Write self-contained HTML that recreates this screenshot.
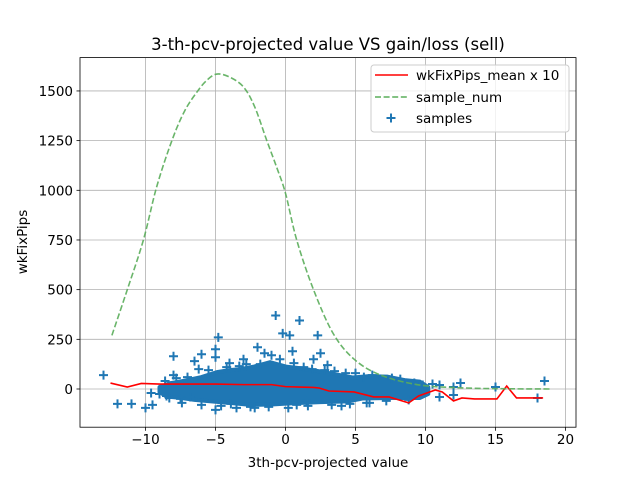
<!DOCTYPE html>
<html><head><meta charset="utf-8"><style>
body{margin:0;background:#fff;font-family:"Liberation Sans","DejaVu Sans",sans-serif}
svg text{font-family:"DejaVu Sans","Liberation Sans",sans-serif}
</style></head><body>
<svg id="chart" width="640" height="480" xmlns="http://www.w3.org/2000/svg"></svg>
<script>
const xTicks=[-10,-5,0,5,10,15,20];
const yTicks=[0,250,500,750,1000,1250,1500];
const meanX=[-12.5,-11.3,-10.3,-9,-7,-5,-3,-1,0,1,2,2.4,3.1,4.9,6.3,7.4,8.8,9.5,10.7,11.2,12,12.6,13.5,15.1,15.8,16.5,18.4];
const meanY=[30,10,28,25,25,25,22,22,12,10,8,5,-10,-15,-40,-40,-70,-35,-5,-15,-60,-45,-50,-50,15,-45,-45];
const numX=[-12.4,-11.3,-10.15,-9.2,-8.1,-7.2,-6.3,-5.6,-4.9,-4,-3,-2.2,-1.35,-0.6,0,0.8,2,3.4,4.9,6.8,9.6,12.9,16,19];
const numY=[270,500,750,1018,1253,1400,1497,1555,1585,1570,1520,1420,1253,1110,985,750,500,280,150,70,20,5,1,0];
const sampX=[-13,-12,-11,-10,-9.5,-8,-8,-7.5,-6.5,-6,-5,-4.8,-5,-4,-3,-2,-1.5,-1,-0.7,-0.2,0.3,0.5,0.8,1,2,2.3,2.5,1.5,-2.5,-5,3,5,6.5,7,8,9,10.5,11,12,12.5,12,15,18.5,18,11,-6.8,-7,-3.5,4,6,-8.5,8.5,9.5,
 -9,-8.6,-7.8,-6.2,-5.5,-4.2,-3.3,-2.8,-1.8,-0.4,0.6,1.3,1.9,2.8,3.5,4.3,5.6,6.2,7.6,8.2,9.2,9.8,-7.4,-6,-4.6,-3.9,-2.2,-1.2,0.2,1.6,3.3,4.6,5.8,7.2,8.8,-9.6,-8.3];
const sampY=[70,-75,-75,-95,-80,165,70,-50,140,175,200,260,160,130,150,210,180,170,370,280,270,190,-80,345,150,270,180,-60,-90,-105,120,80,40,40,30,25,25,20,-30,30,10,10,40,-45,-40,-40,60,-95,-85,-70,-35,-20,10,
 -25,40,55,100,95,110,115,125,125,150,130,110,100,95,90,80,60,70,55,50,30,20,-70,-80,-85,-75,-95,-90,-95,-85,-80,-75,-70,-60,-55,-20,-45];
const coreTop=[[-9,10],[-8.2,30],[-7.5,38],[-6.8,48],[-6,60],[-4.9,85],[-4,95],[-3.2,100],[-2.3,112],[-1.1,135],[0.1,112],[1,105],[2.5,88],[3.5,75],[4.8,58],[6,65],[7.3,62],[8.5,45],[9.6,37],[10.2,10]];
const coreBot=[[10.2,-25],[9.6,-45],[7.5,-45],[5.5,-48],[4.5,-62],[2.5,-66],[0.5,-72],[-1,-78],[-2.5,-80],[-4,-70],[-5,-64],[-6.5,-55],[-7.5,-45],[-8.5,-38],[-9,-15]];
const L=80,R=576,T=57.6,B=427.2;
const sx=v=>285.5+v*14, sy=v=>389-v*0.1987;
const svg=document.getElementById('chart');const NS='http://www.w3.org/2000/svg';
function mk(t,a,txt){const e=document.createElementNS(NS,t);for(const k in a)e.setAttribute(k,a[k]);if(txt!==undefined)e.textContent=txt;svg.appendChild(e);return e;}
function smooth(xs,ys){const p=xs.map((v,i)=>[sx(v),sy(ys[i])]);let d='M'+p[0][0]+','+p[0][1];
for(let i=0;i<p.length-1;i++){const p0=p[Math.max(i-1,0)],p1=p[i],p2=p[i+1],p3=p[Math.min(i+2,p.length-1)];
d+=` C${p1[0]+(p2[0]-p0[0])/6},${p1[1]+(p2[1]-p0[1])/6} ${p2[0]-(p3[0]-p1[0])/6},${p2[1]-(p3[1]-p1[1])/6} ${p2[0]},${p2[1]}`;}return d;}
xTicks.forEach(t=>{const x=sx(t);
let g=mk('line',{x1:x,x2:x,y1:T,y2:B,stroke:'#b0b0b0','stroke-width':0.8});


mk('line',{x1:x,x2:x,y1:B,y2:B+3.5,stroke:'#000','stroke-width':0.8});
let l=mk('text',{x:x,y:B+17,'font-size':'13.5','text-anchor':'middle'},String(t).replace('-','−'));

});
yTicks.forEach(t=>{const y=sy(t);
let g=mk('line',{x1:L,x2:R,y1:y,y2:y,stroke:'#b0b0b0','stroke-width':0.8});


mk('line',{x1:L-3.5,x2:L,y1:y,y2:y,stroke:'#000','stroke-width':0.8});
let l=mk('text',{x:L-7,y:y+5,'font-size':'13.5','text-anchor':'end'},String(t));

});
const pts=coreTop.concat(coreBot).map(p=>sx(p[0])+','+sy(p[1])).join(' ');
let core=mk('polygon',{points:pts,fill:'#1f77b4',stroke:'#1f77b4','stroke-width':4,'stroke-linejoin':'round'});


sampX.forEach((v,i)=>{const x=sx(v),y=sy(sampY[i]);
let p=mk('path',{d:`M${x-4.5},${y}H${x+4.5}M${x},${y-4.5}V${y+4.5}`,stroke:'#1f77b4','stroke-width':2});

});
let mean=mk('polyline',{points:meanX.map((v,i)=>sx(v)+','+sy(meanY[i])).join(' '),fill:'none',stroke:'#ff0000','stroke-width':1.6});


let num=mk('path',{d:smooth(numX,numY),fill:'none',stroke:'#5aad5a','stroke-width':1.6,'stroke-dasharray':'6,2.6',opacity:0.9});


let fr=mk('rect',{x:L,y:T,width:R-L,height:B-T,fill:'none',stroke:'#000','stroke-width':0.8});


let ti=mk('text',{x:328,y:50,'font-size':'16.5','text-anchor':'middle'},'3-th-pcv-projected value VS gain/loss (sell)');


let xl=mk('text',{x:328,y:467,'font-size':'13.5','text-anchor':'middle'},'3th-pcv-projected value');


let yl=mk('text',{x:27,y:242,'font-size':'13.5','text-anchor':'middle',transform:'rotate(-90 27 242)'},'wkFixPips');


let lg=mk('rect',{x:371,y:65,width:198,height:67,rx:3,fill:'#fff','fill-opacity':0.8,stroke:'#ccc','stroke-width':1});


mk('line',{x1:375,x2:408,y1:75,y2:75,stroke:'#ff0000','stroke-width':1.6});
mk('line',{x1:375,x2:408,y1:97,y2:97,stroke:'#5aad5a','stroke-width':1.6,'stroke-dasharray':'6,2.6'});
mk('path',{d:'M386.5,118H395.5M391,113.5V122.5',stroke:'#1f77b4','stroke-width':2});
[['wkFixPips_mean x 10',80,'legend-entry-mean'],['sample_num',102,'legend-entry-sample-num'],['samples',123,'legend-entry-samples']].forEach(e=>{
let t=mk('text',{x:416,y:e[1],'font-size':'13.5'},e[0]);

});
</script>
</body></html>
